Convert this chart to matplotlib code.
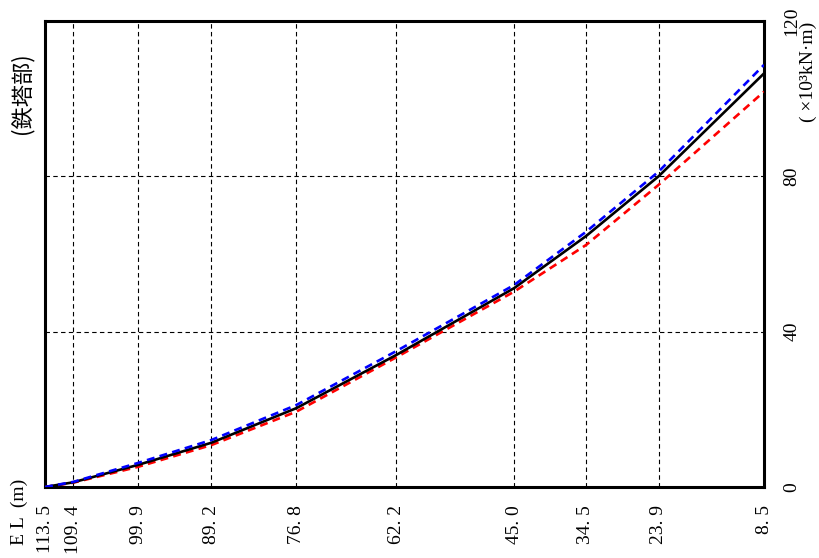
import numpy as np
import matplotlib
matplotlib.use("Agg")
import matplotlib.pyplot as plt

plt.rcParams['font.family'] = ['Noto Sans CJK JP', 'DejaVu Sans']
serif = ['Liberation Serif', 'Noto Sans CJK JP', 'DejaVu Serif']

# 標高 (m) と曲げモーメント (x10^3 kN·m)
el = [113.5, 109.4, 99.9, 89.2, 76.8, 62.2, 45.0, 34.5, 23.9, 8.5]
el_labels = ['113. 5', '109. 4', '99. 9', '89. 2', '76. 8', '62. 2', '45. 0', '34. 5', '23. 9', '8. 5']
m_black = [0.0, 1.2, 5.7, 11.4, 20.3, 34.0, 51.2, 64.6, 80.0, 106.5]
m_blue = [0.0, 1.3, 6.2, 12.1, 21.1, 35.0, 52.0, 65.7, 81.2, 108.7]
m_red = [0.0, 1.1, 5.2, 10.8, 19.4, 33.4, 50.3, 62.3, 77.8, 101.8]
y_ticks = [0, 40, 80, 120]

fig = plt.figure(figsize=(8.19, 5.58), dpi=100)
ax = fig.add_axes([45/819, 71/558, 719/819, 466/558])

ax.plot(el, m_red, color='red', lw=1.9, ls=(0, (3, 2)), zorder=3)
ax.plot(el, m_black, color='black', lw=1.9, zorder=4)
ax.plot(el, m_blue, color='blue', lw=1.9, ls=(0, (3, 2)), zorder=5)

ax.set_xlim(113.5, 8.5)
ax.set_ylim(0, 120)

ax.set_xticks(el)
ax.set_xticklabels(el_labels, rotation=90, va='top', ha='center',
                   family=serif, fontsize=14)
ax.yaxis.tick_right()
ax.set_yticks(y_ticks)
ax.set_yticklabels([str(v) for v in y_ticks], rotation=90, va='center', ha='left',
                   family=serif, fontsize=14)
ax.tick_params(axis='x', length=0, pad=13)
ax.tick_params(axis='y', length=0, pad=14)

ax.grid(True, color='black', ls=(0, (4, 3)), lw=0.8)
for s in ax.spines.values():
    s.set_linewidth(2.2)

fig.text(808/819, 1 - 72/558, '( ×10³kN·m)', rotation=90, ha='center', va='center',
         family=serif, fontsize=14)
fig.text(22/819, 1 - 93/558, '(鉄塔部)', rotation=90, ha='center', va='center', fontsize=16)
fig.text(19/819, 1 - 512/558, 'E L  (m)', rotation=90, ha='center', va='center',
         family=serif, fontsize=14)

fig.savefig('out.png', dpi=100)
